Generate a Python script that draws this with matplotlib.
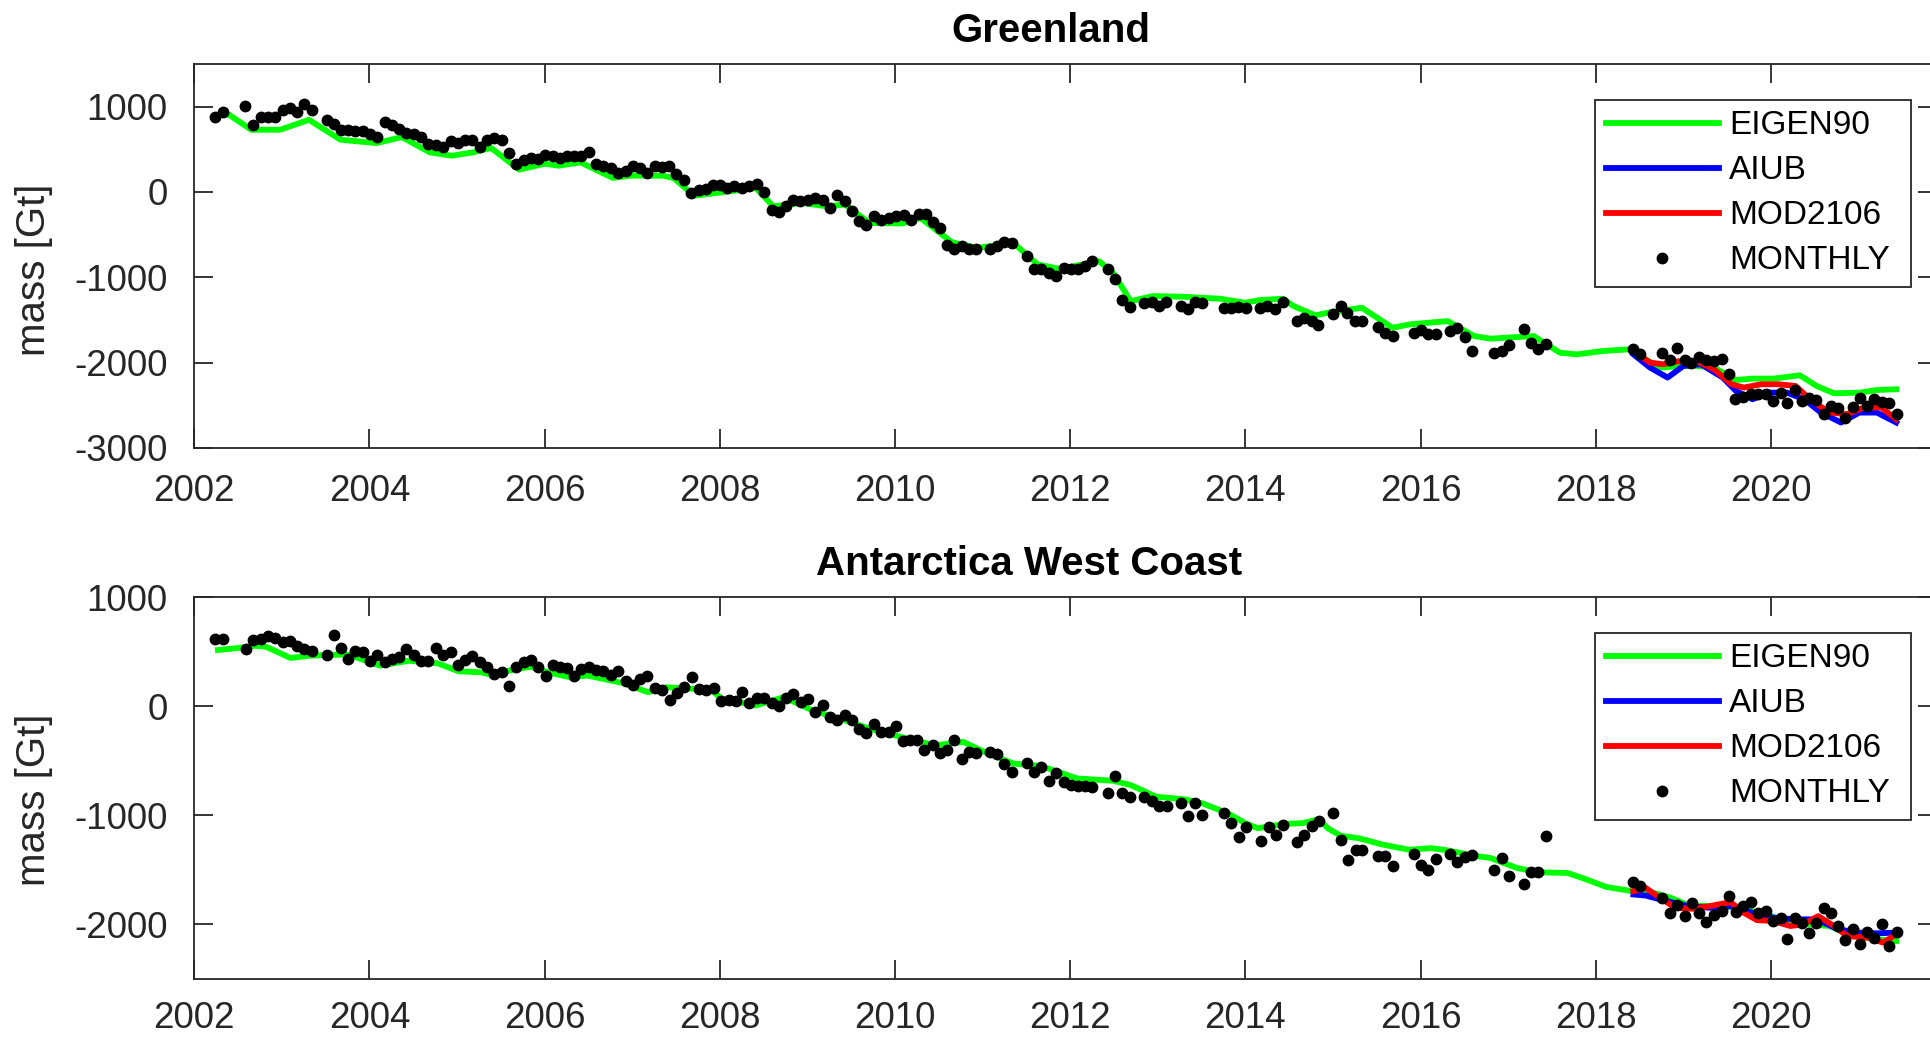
import matplotlib
matplotlib.use("Agg")
import matplotlib.pyplot as plt

plt.rcParams['font.family'] = ['Liberation Sans', 'DejaVu Sans']
plt.rcParams['axes.unicode_minus'] = False

# ---------------- Greenland ----------------
gl_month_t = [2002.24, 2002.33, 2002.58, 2002.67, 2002.76, 2002.84, 2002.92, 2003.01, 2003.09, 2003.17,
              2003.25, 2003.34, 2003.51, 2003.59, 2003.67, 2003.76, 2003.84, 2003.93, 2004.01, 2004.09,
              2004.18, 2004.26, 2004.34, 2004.42, 2004.51, 2004.59, 2004.67, 2004.76, 2004.84, 2004.93,
              2005.01, 2005.09, 2005.17, 2005.26, 2005.34, 2005.42, 2005.51, 2005.59, 2005.67, 2005.76,
              2005.84, 2005.92, 2006.00, 2006.09, 2006.17, 2006.25, 2006.33, 2006.42, 2006.51, 2006.59,
              2006.67, 2006.76, 2006.84, 2006.93, 2007.01, 2007.09, 2007.17, 2007.26, 2007.34, 2007.42,
              2007.50, 2007.59, 2007.67, 2007.76, 2007.84, 2007.92, 2008.00, 2008.08, 2008.16, 2008.25,
              2008.33, 2008.42, 2008.51, 2008.59, 2008.67, 2008.76, 2008.84, 2008.92, 2009.01, 2009.09,
              2009.18, 2009.26, 2009.34, 2009.43, 2009.51, 2009.59, 2009.67, 2009.76, 2009.84, 2009.93,
              2010.01, 2010.10, 2010.18, 2010.27, 2010.35, 2010.43, 2010.51, 2010.59, 2010.67, 2010.76,
              2010.84, 2010.93, 2011.09, 2011.17, 2011.25, 2011.34, 2011.51, 2011.59, 2011.67, 2011.76,
              2011.84, 2011.93, 2012.01, 2012.09, 2012.17, 2012.25, 2012.43, 2012.51, 2012.59, 2012.68,
              2012.84, 2012.93, 2013.01, 2013.09, 2013.26, 2013.34, 2013.42, 2013.51, 2013.76, 2013.84,
              2013.92, 2014.01, 2014.17, 2014.25, 2014.34, 2014.43, 2014.59, 2014.67, 2014.76, 2014.83,
              2015.00, 2015.09, 2015.16, 2015.25, 2015.33, 2015.51, 2015.59, 2015.68, 2015.92, 2016.01,
              2016.09, 2016.18, 2016.34, 2016.42, 2016.51, 2016.59, 2016.84, 2016.93, 2017.01, 2017.18,
              2017.26, 2017.34, 2017.43, 2018.43, 2018.51, 2018.76, 2018.85, 2018.93, 2019.02, 2019.09,
              2019.18, 2019.26, 2019.35, 2019.44, 2019.52, 2019.59, 2019.68, 2019.77, 2019.85, 2019.94,
              2020.02, 2020.11, 2020.18, 2020.27, 2020.35, 2020.44, 2020.51, 2020.60, 2020.68, 2020.77,
              2020.85, 2020.94, 2021.02, 2021.10, 2021.18, 2021.27, 2021.35, 2021.44]
gl_month_v = [877, 932, 1002, 788, 877, 877, 877, 963, 982, 932,
              1033, 963, 846, 799, 729, 729, 710, 710, 682, 643,
              815, 788, 737, 690, 682, 643, 565, 554, 526, 593,
              573, 612, 612, 526, 612, 632, 612, 456, 331, 378,
              398, 386, 437, 417, 398, 425, 425, 425, 464, 331,
              308, 281, 222, 242, 308, 281, 222, 300, 292, 300,
              214, 144, -12, 27, 35, 86, 80, 50, 74, 47,
              66, 97, 0, -207, -238, -168, -90, -109, -90, -70,
              -90, -187, -31, -109, -226, -343, -382, -285, -331, -304,
              -277, -265, -324, -253, -253, -351, -421, -616, -667, -635,
              -674, -667, -667, -628, -589, -596, -745, -908, -901, -947,
              -986, -889, -901, -901, -869, -811, -901, -1025, -1267, -1345,
              -1306, -1290, -1337, -1290, -1337, -1368, -1290, -1298, -1357, -1357,
              -1345, -1357, -1357, -1333, -1372, -1290, -1513, -1474, -1513, -1563,
              -1435, -1337, -1415, -1513, -1513, -1579, -1657, -1688, -1649, -1618,
              -1669, -1669, -1630, -1591, -1696, -1864, -1883, -1864, -1797, -1602,
              -1774, -1836, -1786, -1844, -1903, -1891, -1969, -1825, -1969, -2008,
              -1930, -1969, -1981, -1953, -2136, -2429, -2398, -2370, -2370, -2370,
              -2448, -2359, -2476, -2320, -2448, -2409, -2437, -2604, -2507, -2526,
              -2643, -2515, -2409, -2507, -2421, -2460, -2476, -2604]

gl_eigen_t = [2002.29, 2002.40, 2002.65, 2002.98, 2003.31, 2003.67, 2004.08, 2004.37, 2004.69, 2004.94,
              2005.18, 2005.39, 2005.71, 2006.00, 2006.16, 2006.41, 2006.78, 2006.98, 2007.35, 2007.47,
              2007.71, 2007.96, 2008.20, 2008.41, 2008.61, 2008.94, 2009.22, 2009.43, 2009.71, 2010.08,
              2010.29, 2010.65, 2010.94, 2011.35, 2011.63, 2011.88, 2012.33, 2012.49, 2012.69, 2012.94,
              2013.31, 2013.71, 2014.00, 2014.16, 2014.43, 2014.55, 2014.80, 2014.94, 2015.33, 2015.68,
              2015.87, 2016.31, 2016.61, 2016.80, 2017.29, 2017.59, 2017.78, 2018.08, 2018.37, 2018.57,
              2018.74, 2018.96, 2019.15, 2019.35, 2019.60, 2019.79, 2020.03, 2020.33, 2020.52, 2020.72,
              2021.02, 2021.21, 2021.43]
gl_eigen_v = [904, 904, 729, 729, 846, 612, 573, 643, 464, 425,
              464, 515, 261, 331, 308, 347, 164, 191, 191, 164,
              -43, -12, 19, 47, -168, -129, -168, -148, -363, -370,
              -304, -589, -655, -596, -850, -901, -811, -947, -1279, -1220,
              -1228, -1251, -1298, -1267, -1251, -1337, -1446, -1415, -1357, -1591,
              -1552, -1513, -1688, -1719, -1688, -1883, -1903, -1864, -1844, -1962,
              -2058, -2039, -2039, -2058, -2203, -2187, -2187, -2148, -2273, -2359,
              -2351, -2320, -2312]

gl_aiub_t = [2018.43, 2018.62, 2018.82, 2019.00, 2019.20, 2019.45, 2019.60, 2019.79, 2019.98, 2020.18,
             2020.38, 2020.57, 2020.80, 2021.01, 2021.21, 2021.43]
gl_aiub_v = [-1903, -2058, -2175, -2039, -2019, -2175, -2331, -2429, -2351, -2351,
             -2429, -2585, -2702, -2585, -2585, -2702]

gl_mod_t = [2018.43, 2018.62, 2018.77, 2018.96, 2019.15, 2019.35, 2019.55, 2019.69, 2019.89, 2020.08,
            2020.28, 2020.47, 2020.67, 2020.87, 2021.06, 2021.26, 2021.43]
gl_mod_v = [-1864, -2000, -2019, -1981, -1981, -2078, -2253, -2292, -2253, -2253,
            -2273, -2448, -2585, -2604, -2526, -2526, -2663]

# ---------------- Antarctica West Coast ----------------
aw_month_t = [2002.24, 2002.33, 2002.59, 2002.67, 2002.76, 2002.84, 2002.92, 2003.01, 2003.09, 2003.17,
              2003.25, 2003.34, 2003.51, 2003.59, 2003.67, 2003.76, 2003.84, 2003.93, 2004.01, 2004.09,
              2004.18, 2004.26, 2004.34, 2004.42, 2004.51, 2004.59, 2004.67, 2004.76, 2004.84, 2004.93,
              2005.01, 2005.09, 2005.17, 2005.26, 2005.34, 2005.42, 2005.51, 2005.59, 2005.67, 2005.76,
              2005.84, 2005.92, 2006.01, 2006.09, 2006.17, 2006.25, 2006.33, 2006.42, 2006.51, 2006.59,
              2006.67, 2006.76, 2006.84, 2006.93, 2007.01, 2007.09, 2007.17, 2007.26, 2007.34, 2007.43,
              2007.51, 2007.59, 2007.68, 2007.76, 2007.84, 2007.93, 2008.01, 2008.10, 2008.18, 2008.25,
              2008.33, 2008.42, 2008.51, 2008.59, 2008.67, 2008.76, 2008.84, 2008.93, 2009.01, 2009.09,
              2009.18, 2009.26, 2009.34, 2009.43, 2009.51, 2009.59, 2009.67, 2009.76, 2009.84, 2009.93,
              2010.01, 2010.09, 2010.17, 2010.25, 2010.33, 2010.43, 2010.51, 2010.59, 2010.67, 2010.76,
              2010.84, 2010.93, 2011.09, 2011.17, 2011.25, 2011.34, 2011.51, 2011.59, 2011.67, 2011.76,
              2011.84, 2011.93, 2012.01, 2012.09, 2012.17, 2012.25, 2012.43, 2012.51, 2012.59, 2012.68,
              2012.84, 2012.93, 2013.01, 2013.10, 2013.27, 2013.35, 2013.43, 2013.51, 2013.76, 2013.84,
              2013.93, 2014.01, 2014.18, 2014.27, 2014.35, 2014.43, 2014.59, 2014.67, 2014.76, 2014.84,
              2015.00, 2015.09, 2015.17, 2015.26, 2015.33, 2015.51, 2015.59, 2015.68, 2015.92, 2016.01,
              2016.09, 2016.18, 2016.34, 2016.42, 2016.51, 2016.59, 2016.84, 2016.93, 2017.01, 2017.18,
              2017.26, 2017.34, 2017.43, 2018.43, 2018.51, 2018.76, 2018.85, 2018.93, 2019.02, 2019.10,
              2019.18, 2019.26, 2019.35, 2019.44, 2019.52, 2019.60, 2019.68, 2019.77, 2019.85, 2019.94,
              2020.02, 2020.11, 2020.18, 2020.27, 2020.35, 2020.43, 2020.52, 2020.60, 2020.68, 2020.77,
              2020.85, 2020.94, 2021.02, 2021.10, 2021.18, 2021.27, 2021.35, 2021.44]
aw_month_v = [614, 614, 523, 605, 614, 644, 623, 584, 599, 553,
              523, 508, 471, 653, 532, 432, 502, 492, 410, 471,
              401, 432, 453, 523, 471, 416, 410, 532, 471, 492,
              380, 422, 462, 401, 362, 295, 310, 188, 356, 401,
              422, 356, 280, 380, 362, 350, 280, 340, 356, 331,
              319, 289, 325, 234, 198, 249, 280, 167, 149, 52,
              119, 179, 271, 158, 149, 167, 46, 52, 46, 128,
              27, 76, 76, 27, -3, 76, 112, 36, 67, -55,
              6, -100, -125, -85, -131, -207, -246, -161, -237, -237,
              -185, -319, -313, -307, -398, -359, -429, -398, -313, -480,
              -419, -429, -419, -441, -532, -602, -520, -602, -562, -684,
              -611, -693, -723, -733, -733, -745, -793, -641, -793, -830,
              -836, -866, -915, -915, -884, -1006, -884, -997, -976, -1067,
              -1195, -1109, -1240, -1109, -1179, -1088, -1249, -1179, -1097, -1049,
              -982, -1231, -1413, -1316, -1316, -1371, -1371, -1462, -1353, -1453,
              -1505, -1401, -1353, -1432, -1383, -1362, -1498, -1392, -1553, -1626,
              -1523, -1523, -1188, -1614, -1650, -1757, -1894, -1818, -1924, -1802,
              -1894, -1979, -1918, -1878, -1736, -1888, -1833, -1796, -1900, -1878,
              -1970, -1939, -2137, -1939, -1985, -2076, -1985, -1848, -1894, -2015,
              -2143, -2040, -2182, -2070, -2122, -2000, -2198, -2070]

aw_eigen_t = [2002.27, 2002.49, 2002.69, 2002.82, 2003.10, 2003.31, 2003.59, 2003.76, 2003.96, 2004.12,
              2004.45, 2004.78, 2005.02, 2005.27, 2005.43, 2005.59, 2005.84, 2006.04, 2006.29, 2006.49,
              2006.90, 2007.18, 2007.39, 2007.71, 2007.88, 2008.04, 2008.20, 2008.41, 2008.73, 2009.06,
              2009.43, 2009.71, 2010.04, 2010.45, 2010.78, 2011.02, 2011.35, 2011.67, 2012.08, 2012.49,
              2012.69, 2012.98, 2013.31, 2013.51, 2013.80, 2014.00, 2014.14, 2014.45, 2014.65, 2014.84,
              2014.94, 2015.09, 2015.29, 2015.58, 2015.87, 2016.12, 2016.31, 2016.61, 2016.80, 2017.10,
              2017.34, 2017.68, 2017.88, 2018.12, 2018.42, 2018.66, 2018.86, 2019.06, 2019.35, 2019.64,
              2019.94, 2020.18, 2020.43, 2020.67, 2020.92, 2021.21, 2021.43]
aw_eigen_v = [514, 532, 553, 544, 441, 462, 471, 471, 416, 371,
              416, 392, 319, 310, 280, 325, 362, 310, 264, 280,
              210, 128, 173, 158, 158, 60, 40, 6, 82, -40,
              -131, -207, -277, -359, -328, -419, -526, -550, -663, -684,
              -723, -830, -854, -891, -982, -1073, -1119, -1079, -1073, -1036,
              -1119, -1188, -1210, -1271, -1316, -1301, -1322, -1371, -1392, -1483,
              -1523, -1529, -1584, -1657, -1696, -1711, -1757, -1827, -1833, -1848,
              -1909, -1970, -2000, -2015, -2106, -2137, -2152]

aw_aiub_t = [2018.43, 2018.57, 2018.81, 2019.06, 2019.30, 2019.54, 2019.79, 2020.03, 2020.28, 2020.52,
             2020.77, 2021.01, 2021.21, 2021.43]
aw_aiub_v = [-1726, -1736, -1787, -1833, -1848, -1833, -1894, -1939, -1954, -1954,
             -2046, -2076, -2082, -2076]

aw_mod_t = [2018.43, 2018.57, 2018.76, 2018.91, 2019.10, 2019.30, 2019.54, 2019.69, 2019.84, 2020.03,
            2020.22, 2020.37, 2020.54, 2020.72, 2020.87, 2021.11, 2021.28, 2021.43]
aw_mod_v = [-1696, -1666, -1772, -1848, -1857, -1833, -1796, -1894, -1961, -1970,
            -2015, -2000, -1924, -2015, -2106, -2122, -2167, -2091]

DARK = '#262626'


def draw_panel(ax, title, title_x, month_t, month_v, eig_t, eig_v, aiub_t, aiub_v, mod_t, mod_v,
               ylim, yticks, ylabel_y, xpad):
    ax.plot(eig_t, eig_v, color=(0, 1, 0), lw=4.2, label='EIGEN90', zorder=2,
            solid_joinstyle='round')
    ax.plot(aiub_t, aiub_v, color=(0, 0, 1), lw=4.2, label='AIUB', zorder=3,
            solid_joinstyle='round')
    ax.plot(mod_t, mod_v, color=(1, 0, 0), lw=4.2, label='MOD2106', zorder=4,
            solid_joinstyle='round')
    ax.plot(month_t, month_v, 'o', color='k', ms=7.5, mec='k', label='MONTHLY', zorder=5)

    ax.set_xlim(2002, 2021.9)
    ax.set_ylim(*ylim)
    ax.set_xticks(range(2002, 2022, 2))
    ax.set_yticks(yticks)
    ax.tick_params(direction='in', top=True, right=True, length=13.5, width=1.3,
                   color=DARK, labelcolor=DARK, labelsize=26.5)
    ax.tick_params(axis='x', pad=xpad)
    ax.tick_params(axis='y', pad=19)
    for s in ax.spines.values():
        s.set_color(DARK)
        s.set_linewidth(1.3)

    ax.set_title(title, fontsize=29, fontweight='bold', x=title_x, pad=16)
    ax.set_ylabel('mass [Gt]', fontsize=29, color=DARK)
    ax.yaxis.set_label_coords(-0.081, ylabel_y)

    leg = ax.legend(loc='upper left', bbox_to_anchor=(0.8036, 0.907, 0.181, 0.0),
                    mode='expand', fontsize=24, frameon=True, fancybox=False,
                    framealpha=1, edgecolor=DARK, handlelength=3.4, handletextpad=0.3,
                    labelspacing=0.42, borderpad=0.32, borderaxespad=0, numpoints=1)
    leg.get_frame().set_linewidth(1.3)


fig = plt.figure(figsize=(19.31, 10.37), dpi=100)
ax1 = fig.add_axes([0.1006, 0.5680, 0.9027, 0.3703])
ax2 = fig.add_axes([0.1006, 0.0560, 0.9027, 0.3683])

draw_panel(ax1, 'Greenland', 0.4915, gl_month_t, gl_month_v, gl_eigen_t, gl_eigen_v,
           gl_aiub_t, gl_aiub_v, gl_mod_t, gl_mod_v, (-3000, 1500),
           [-3000, -2000, -1000, 0, 1000], 0.465, 19)
draw_panel(ax2, 'Antarctica West Coast', 0.479, aw_month_t, aw_month_v, aw_eigen_t, aw_eigen_v,
           aw_aiub_t, aw_aiub_v, aw_mod_t, aw_mod_v, (-2500, 1000),
           [-2000, -1000, 0, 1000], 0.47, 16)

fig.savefig('out.png', dpi=100, facecolor='white')
